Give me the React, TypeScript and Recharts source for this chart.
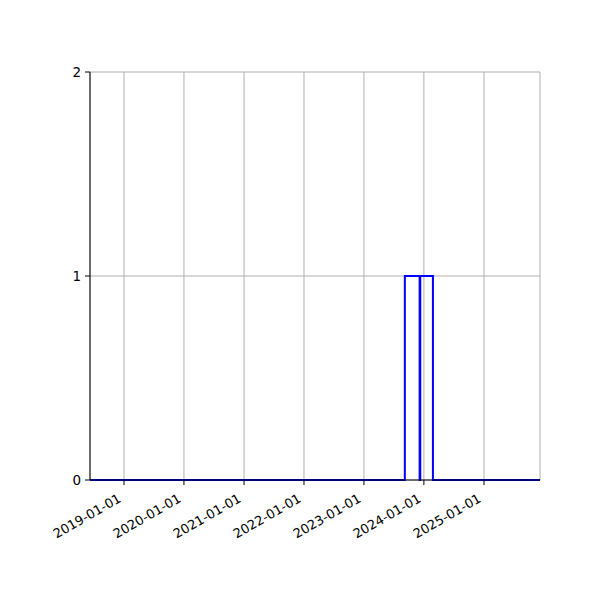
import React from 'react';
import { LineChart, Line, XAxis, YAxis, CartesianGrid } from 'recharts';

// step outline: edge dates and the count that holds from that edge on
const edgeDates = ['2018-06-08', '2023-09-07', '2023-12-06', '2023-12-10', '2024-02-25', '2025-12-08'];
const counts = [0, 1, 0, 1, 0, 0];
const tickDates = ['2019-01-01', '2020-01-01', '2021-01-01', '2022-01-01', '2023-01-01', '2024-01-01', '2025-01-01'];
const yTicks = [0, 1, 2];

const toMs = (d: string) => new Date(d + 'T00:00:00Z').getTime();

const data = edgeDates.map((d, i) => ({ t: toMs(d), count: counts[i] }));
const xTicks = tickDates.map(toMs);
const xDomain = [toMs(edgeDates[0]), toMs(edgeDates[edgeDates.length - 1])];

const FONT = '"DejaVu Sans", sans-serif';

function DateTick(props: any) {
  const { x, y, payload } = props;
  const label = new Date(payload.value).toISOString().slice(0, 10);
  const ax = x - 2;
  const ay = y + 14;
  return (
    <text
      x={ax}
      y={ay}
      textAnchor="end"
      fontSize={13}
      fontFamily={FONT}
      fill="#000"
      transform={`rotate(-30, ${ax}, ${ay})`}
    >
      {label}
    </text>
  );
}

export default function App() {
  return (
    <div style={{ position: 'absolute', top: 0, left: 0, width: 600, height: 600, background: '#fff' }}>
      <LineChart width={600} height={600} data={data} margin={{ top: 72, right: 60, left: 0, bottom: 0 }}>
        <CartesianGrid stroke="#b0b0b0" strokeWidth={1} />
        <XAxis
          dataKey="t"
          type="number"
          domain={xDomain}
          ticks={xTicks}
          interval={0}
          allowDataOverflow
          height={120}
          stroke="#000"
          tickSize={5}
          tickMargin={2}
          tick={<DateTick />}
        />
        <XAxis xAxisId="top" orientation="top" type="number" domain={xDomain} height={0} tick={false} tickLine={false} stroke="#000" />
        <YAxis
          type="number"
          domain={[0, 2]}
          ticks={yTicks}
          interval={0}
          width={90}
          stroke="#000"
          tickSize={5}
          tickMargin={4}
          tick={{ fill: '#000', fontSize: 13.5, fontFamily: FONT }}
        />
        <YAxis yAxisId="right" orientation="right" domain={[0, 2]} width={0} tick={false} tickLine={false} stroke="#000" />
        <Line
          type="stepAfter"
          dataKey="count"
          stroke="#0000ff"
          strokeWidth={2}
          dot={false}
          isAnimationActive={false}
        />
      </LineChart>
    </div>
  );
}
